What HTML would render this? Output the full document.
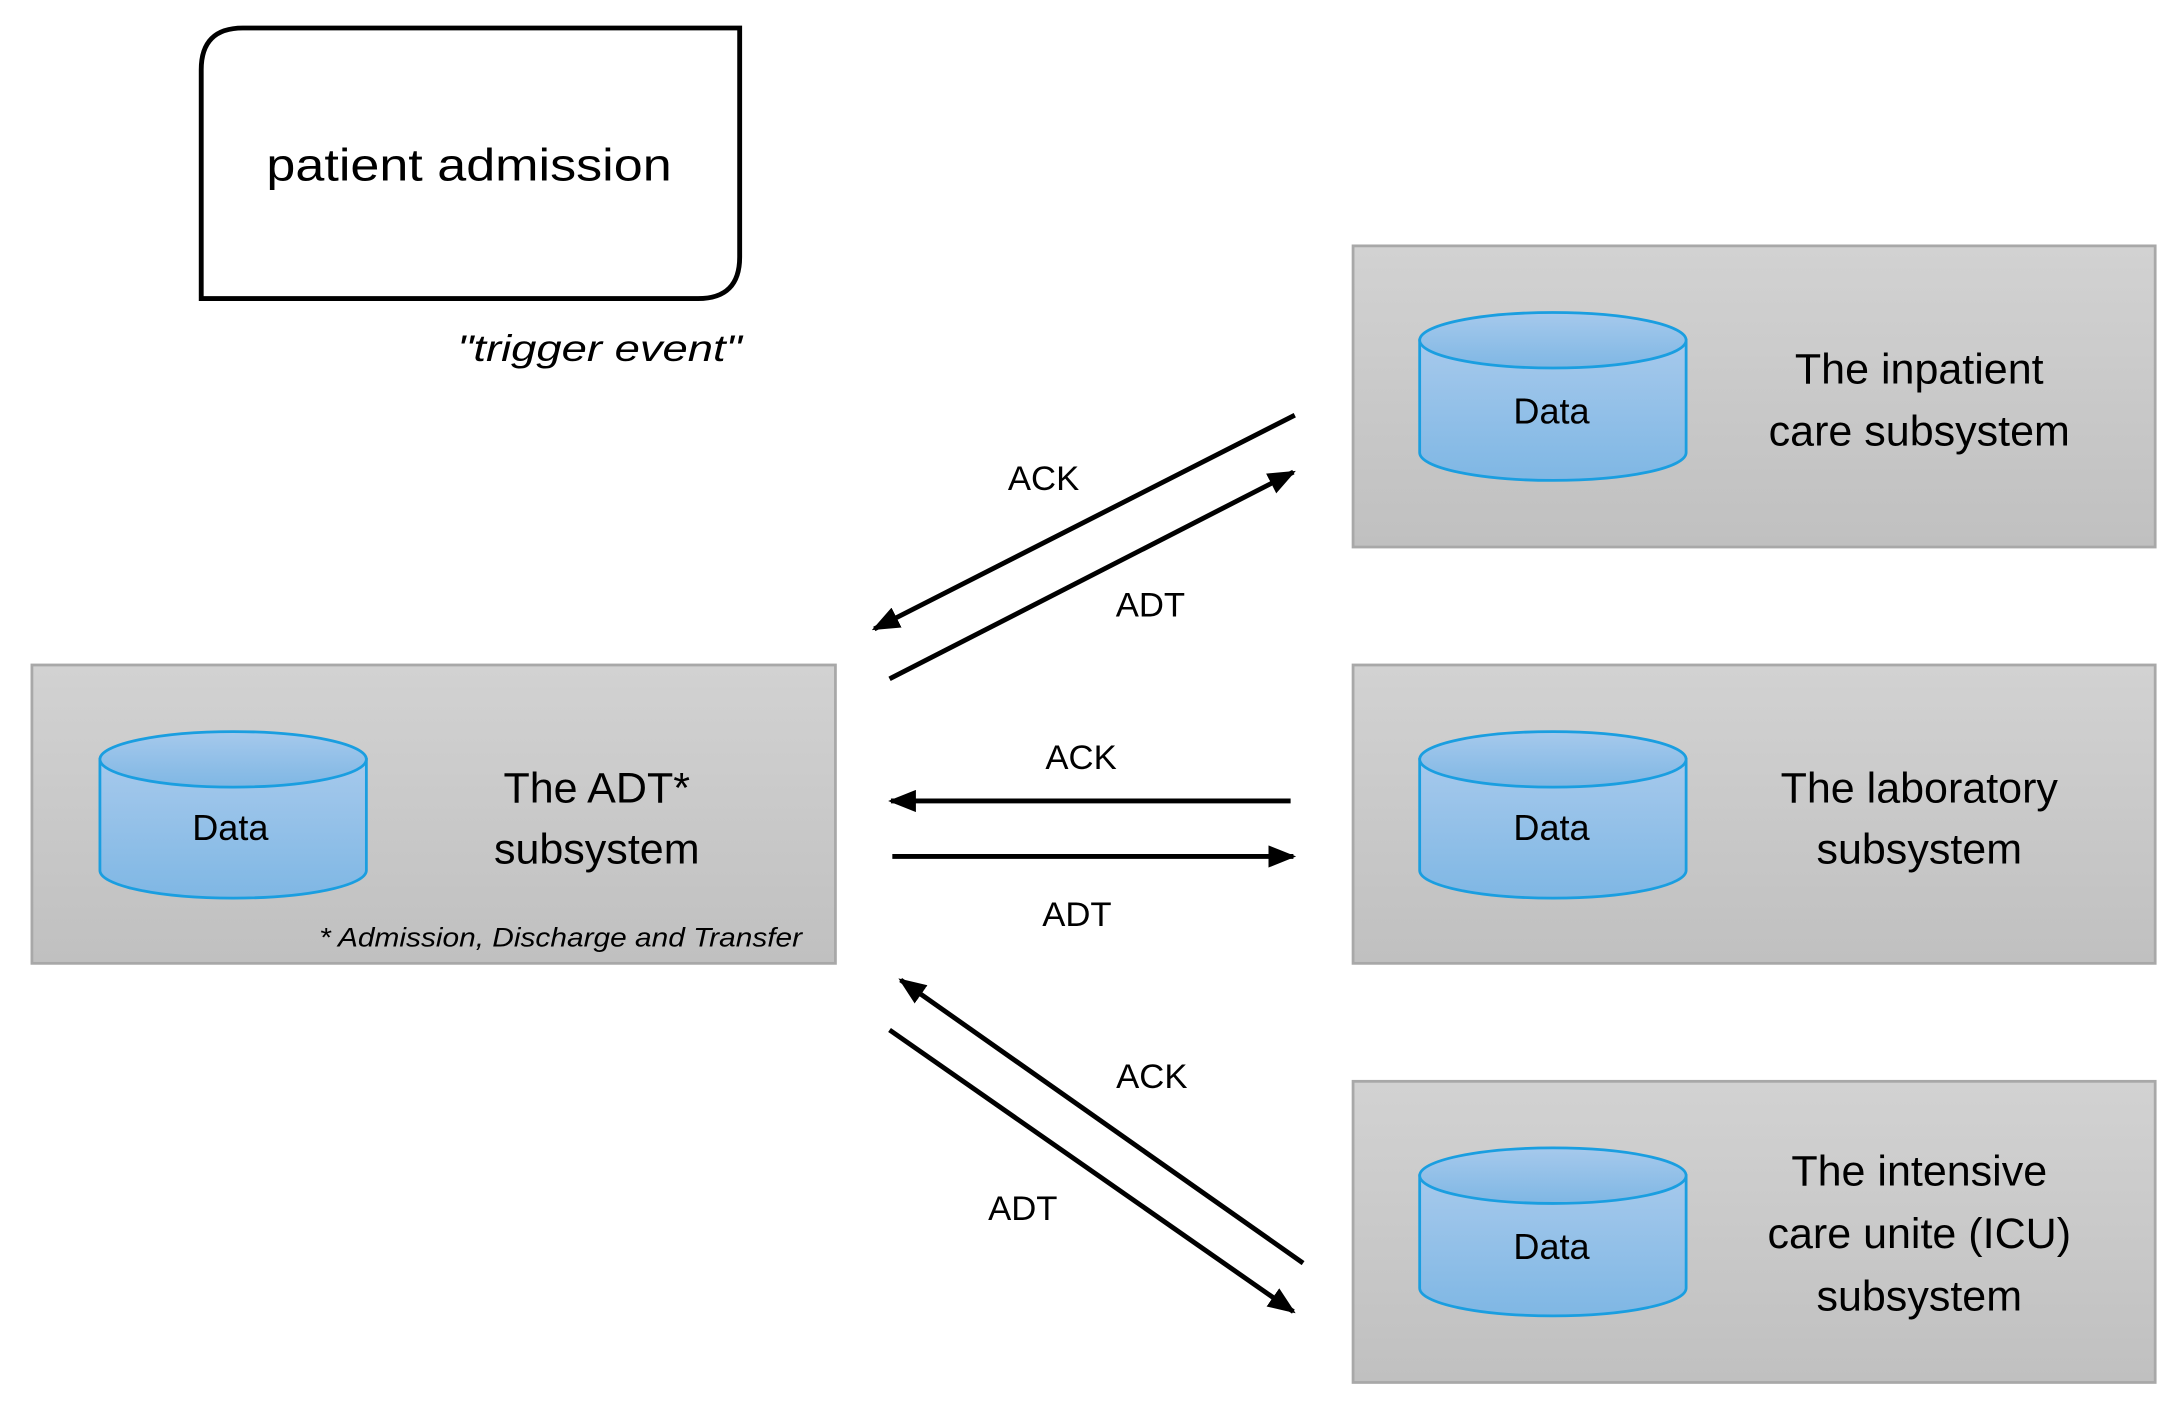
<!DOCTYPE html>
<html><head><meta charset="utf-8"><style>
html,body{margin:0;padding:0;background:#fff;}
svg{display:block;}
text{font-family:"Liberation Sans",sans-serif;}
</style></head><body>
<svg width="2176" height="1416" viewBox="0 0 1568 1020" xmlns="http://www.w3.org/2000/svg">
<defs>
<linearGradient id="g" x1="0" y1="0" x2="0" y2="1"><stop offset="0" stop-color="#d2d2d2"/><stop offset="1" stop-color="#c0c0c0"/></linearGradient>
<linearGradient id="c" x1="0" y1="0" x2="0" y2="1"><stop offset="0" stop-color="#a6c9ec"/><stop offset="1" stop-color="#7fb7e4"/></linearGradient>
<marker id="m" markerWidth="20" markerHeight="16" refX="18" refY="8" orient="auto" markerUnits="userSpaceOnUse"><path d="M0,0 L20,8 L0,16 z" fill="#000"/></marker>
</defs>
<path d="M175,20 L533,20 L533,185 Q533,215 503,215 L145,215 L145,50 Q145,20 175,20 Z" fill="#fff" stroke="#000" stroke-width="3.5"/>
<text x="338" y="130" font-size="33" text-anchor="middle" textLength="292" lengthAdjust="spacingAndGlyphs">patient admission</text>
<text x="432" y="260" font-size="27" font-style="italic" text-anchor="middle" textLength="205" lengthAdjust="spacingAndGlyphs">"trigger event"</text>

<g stroke="#a8a8a8" stroke-width="2" fill="url(#g)">
<rect x="23" y="479" width="579" height="215"/>
<rect x="975" y="177" width="578" height="217"/>
<rect x="975" y="479" width="578" height="215"/>
<rect x="975" y="779" width="578" height="217"/>
</g>

<g stroke="#1a9ee0" stroke-width="2" fill="url(#c)">
<path d="M72,547 L72,627 A96,20 0 0 0 264,627 L264,547 Z"/><ellipse cx="168" cy="547" rx="96" ry="20"/>
<path d="M1023,245 L1023,326 A96,20 0 0 0 1215,326 L1215,245 Z"/><ellipse cx="1119" cy="245" rx="96" ry="20"/>
<path d="M1023,547 L1023,627 A96,20 0 0 0 1215,627 L1215,547 Z"/><ellipse cx="1119" cy="547" rx="96" ry="20"/>
<path d="M1023,847 L1023,928 A96,20 0 0 0 1215,928 L1215,847 Z"/><ellipse cx="1119" cy="847" rx="96" ry="20"/>
</g>
<g font-size="26" text-anchor="middle">
<text x="166" y="605">Data</text>
<text x="1118" y="305">Data</text>
<text x="1118" y="605">Data</text>
<text x="1118" y="907">Data</text>
</g>
<g font-size="31" text-anchor="middle">
<text x="430" y="578">The ADT*</text>
<text x="430" y="622">subsystem</text>
<text x="1383" y="276">The inpatient</text>
<text x="1383" y="321">care subsystem</text>
<text x="1383" y="578">The laboratory</text>
<text x="1383" y="622">subsystem</text>
<text x="1383" y="854">The intensive</text>
<text x="1383" y="899">care unite (ICU)</text>
<text x="1383" y="944">subsystem</text>
</g>
<text x="230" y="682" font-size="19" font-style="italic" textLength="348" lengthAdjust="spacingAndGlyphs">* Admission, Discharge and Transfer</text>

<g stroke="#000" stroke-width="3.5" marker-end="url(#m)">
<line x1="933" y1="299" x2="630" y2="453"/>
<line x1="641" y1="489" x2="932" y2="340"/>
<line x1="930" y1="577" x2="642" y2="577"/>
<line x1="643" y1="617" x2="932" y2="617"/>
<line x1="939" y1="910" x2="649" y2="706"/>
<line x1="641" y1="742" x2="932" y2="945"/>
</g>
<g font-size="25" text-anchor="middle">
<text x="752" y="353">ACK</text>
<text x="829" y="444">ADT</text>
<text x="779" y="554">ACK</text>
<text x="776" y="667">ADT</text>
<text x="830" y="784">ACK</text>
<text x="737" y="879">ADT</text>
</g>
</svg>
</body></html>
